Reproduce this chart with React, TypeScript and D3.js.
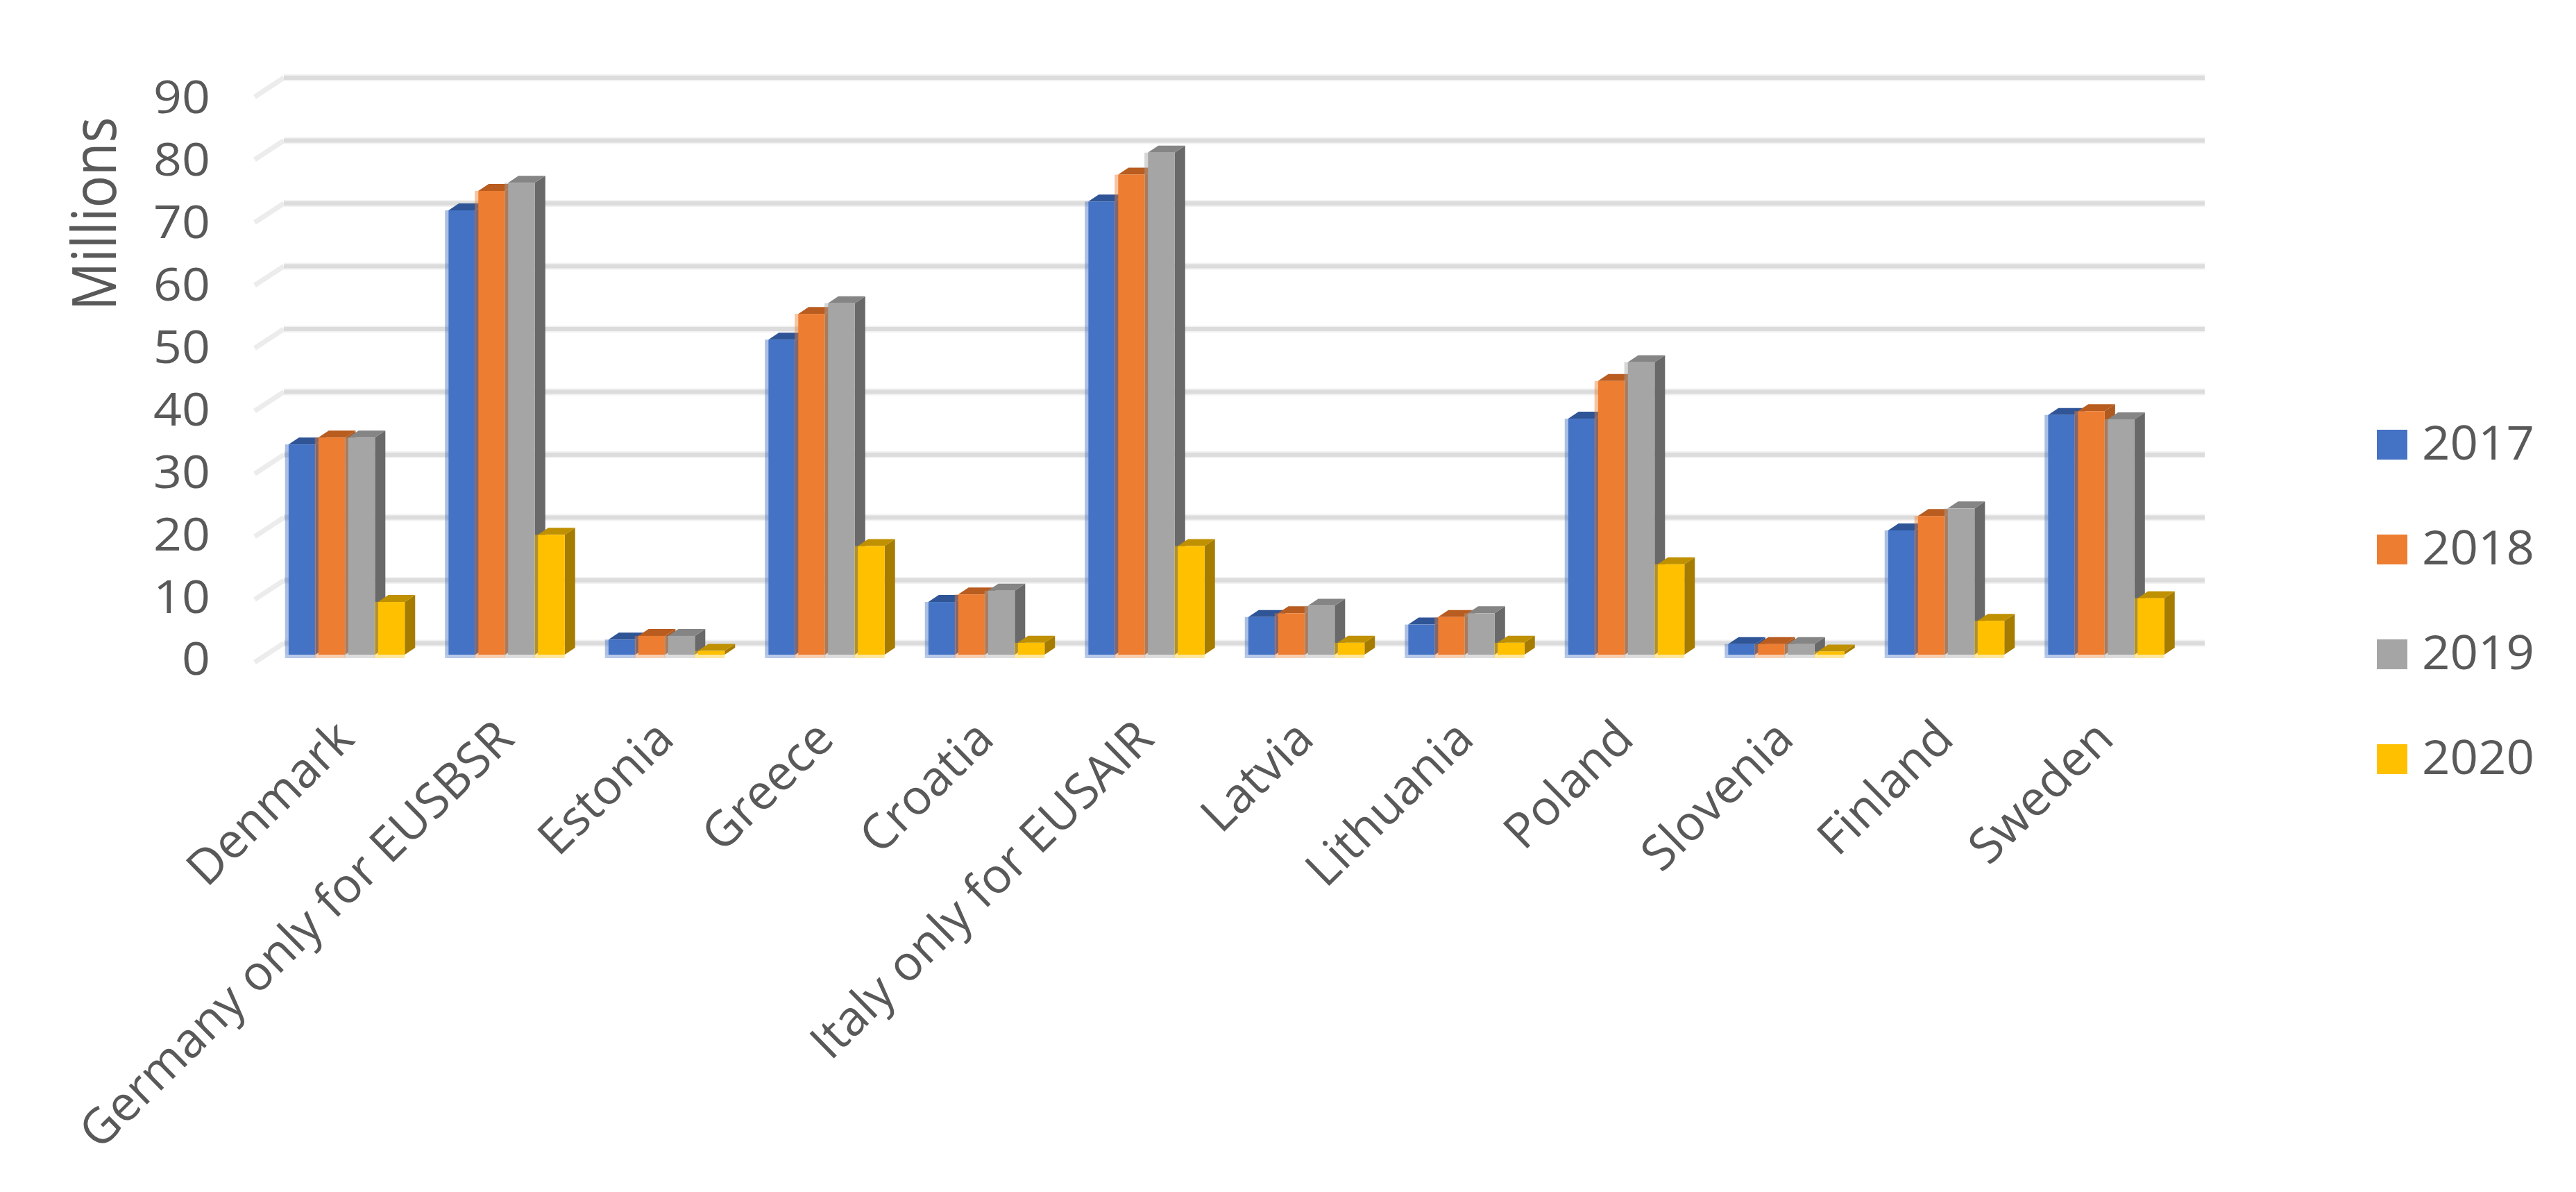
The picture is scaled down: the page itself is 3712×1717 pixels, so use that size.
import * as d3 from "d3";

const countries = [
  "Denmark",
  "Germany only for EUSBSR",
  "Estonia",
  "Greece",
  "Croatia",
  "Italy only for EUSAIR",
  "Latvia",
  "Lithuania",
  "Poland",
  "Slovenia",
  "Finland",
  "Sweden",
];
const years = ["2017", "2018", "2019", "2020"];

// millions
const values2017 = [33.5, 70.8, 2.4, 50.2, 8.4, 72.2, 6.0, 4.8, 37.6, 1.7, 19.8, 38.2];
const values2018 = [34.6, 73.9, 3.0, 54.3, 9.6, 76.5, 6.6, 6.0, 43.6, 1.7, 22.1, 38.8];
const values2019 = [34.6, 75.2, 3.0, 56.0, 10.2, 80.0, 7.8, 6.6, 46.6, 1.7, 23.3, 37.5];
const values2020 = [8.4, 19.1, 0.6, 17.3, 1.9, 17.3, 1.9, 1.9, 14.4, 0.5, 5.4, 9.0];
const seriesValues = [values2017, values2018, values2019, values2020];

const frontColors = ["#4472c4", "#ed7d31", "#a5a5a5", "#ffc000"];
const topColors = ["#2f5597", "#b85c20", "#858585", "#bf9000"];
const sideColors = ["#2f5597", "#ae5a21", "#696969", "#a67c00"];

const width = 3712;
const height = 1717;
const textColor = "#595959";
const font = "'Open Sans', sans-serif";

// depth of the fake 3D bars
const depthX = 15;
const depthY = 10;

export default function App() {
  const x = d3.scaleBand(countries, [416 - 31.75, 416 - 31.75 + 12 * 230.5]);
  const groupPad = (x.bandwidth() - 167.5) / 2;
  const xSeries = d3.scaleBand(years, [0, 167.5]).paddingInner(0.1);
  const barW = xSeries.bandwidth();

  // front plane of the bars, back wall gridlines and the tick labels each sit on their own baseline
  const y = d3.scaleLinear([0, 90], [943, 129.4]);
  const yGrid = d3.scaleLinear([0, 90], [926.5, 112]);
  const yLabel = d3.scaleLinear([0, 90], [949, 140]);
  const ticks = y.ticks(9);

  const yLegend = d3.scalePoint(years, [619, 1072]);

  const gridPath = (v: number) => {
    const yb = yGrid(v);
    return `M409,${yb}H3177`;
  };
  const wallPath = (v: number) => {
    const yb = yGrid(v);
    return `M367,${yb + 27.5}L409,${yb}`;
  };

  return (
    <svg
      width={width}
      height={height}
      style={{ position: "absolute", left: 0, top: 0, background: "#fff" }}
    >
      <text
        transform="translate(167,308) rotate(-90)"
        textAnchor="middle"
        fontFamily={font}
        fontSize={88}
        textLength={279}
        lengthAdjust="spacingAndGlyphs"
        fill={textColor}
      >
        Millions
      </text>

      <g fill="none">
        {ticks.map((t) => (
          <g key={t}>
            <path d={wallPath(t)} stroke="#ececec" strokeWidth={7} />
            <path d={gridPath(t)} stroke="#f2f2f2" strokeWidth={10} />
            <path d={gridPath(t)} stroke="#dcdcdc" strokeWidth={6} />
          </g>
        ))}
      </g>

      <g fontFamily={font} fontSize={65} fill={textColor} textAnchor="end">
        {ticks.map((t) => (
          <text
            key={t}
            x={303}
            y={yLabel(t)}
            dy="0.36em"
            textLength={String(t).length * 41}
            lengthAdjust="spacingAndGlyphs"
          >
            {t}
          </text>
        ))}
      </g>

      {countries.map((c, i) => {
        const gx = x(c)! + groupPad;
        return (
          <g key={c}>
            {years.map((yr, s) => {
              const v = seriesValues[s][i];
              const bx = gx + xSeries(yr)!;
              const top = y(v);
              const base = y(0);
              return (
                <g key={yr}>
                  <polygon
                    fill={sideColors[s]}
                    points={`${bx + barW},${top} ${bx + barW + depthX},${top - depthY} ${bx + barW + depthX},${base - depthY} ${bx + barW},${base}`}
                  />
                  <polygon
                    fill={topColors[s]}
                    points={`${bx},${top} ${bx + depthX},${top - depthY} ${bx + barW + depthX},${top - depthY} ${bx + barW},${top}`}
                  />
                  <rect x={bx} y={top} width={barW} height={base - top} fill={frontColors[s]} />
                  {/* soft edges that the low-res original has left of and under each bar */}
                  <rect x={bx - 5} y={top} width={5} height={base - top} fill={frontColors[s]} opacity={0.45} />
                  <rect x={bx - 5} y={base} width={barW + 5} height={5} fill={frontColors[s]} opacity={0.38} />
                </g>
              );
            })}
          </g>
        );
      })}

      <g fontFamily={font} fontSize={70} fill={textColor} textAnchor="end">
        {countries.map((c) => {
          const cx = x(c)! + x.bandwidth() / 2;
          return (
            <text key={c} transform={`translate(${cx + 14},1068) rotate(-44.5)`}>
              {c}
            </text>
          );
        })}
      </g>

      <g fontFamily={font} fontSize={68} fill={textColor}>
        {years.map((yr, s) => (
          <g key={yr} transform={`translate(0,${yLegend(yr)})`}>
            <rect x={3425} y={0} width={44} height={43} fill={frontColors[s]} />
            <text x={3490} y={43} textLength={162} lengthAdjust="spacingAndGlyphs">
              {yr}
            </text>
          </g>
        ))}
      </g>
    </svg>
  );
}
